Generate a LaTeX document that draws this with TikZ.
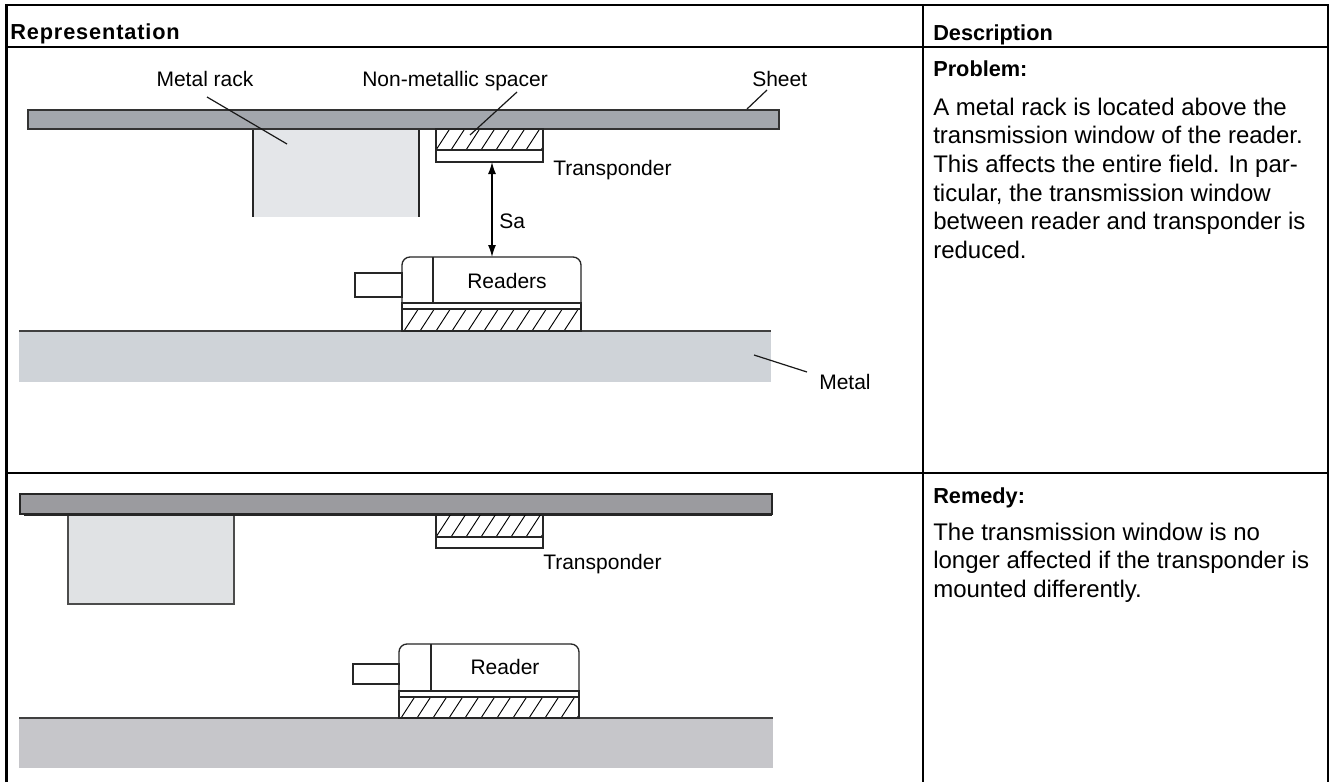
\documentclass[tikz,border=0pt]{standalone}
\usepackage{fontspec}
\setmainfont{Liberation Sans}
\usetikzlibrary{arrows.meta}
\definecolor{sheetA}{HTML}{A3A7AD}
\definecolor{sheetB}{HTML}{9B9B9F}
\definecolor{rackA}{HTML}{E4E6E9}
\definecolor{rackB}{HTML}{E0E2E4}
\definecolor{metalA}{HTML}{CFD3D8}
\definecolor{metalB}{HTML}{C6C6CA}
\newcommand\hatchbox[5]{%
  \begin{scope}
    \clip (#1,#2) rectangle (#3,#4);
    \foreach \k in {0,1,...,24}
      \draw[line width=0.7pt] ({#1-30+\k*#5},#4) -- ++({0.65*(#4-#2)},{-(#4-#2)});
  \end{scope}
  \draw[ln] (#1,#2) rectangle (#3,#4);}
\begin{document}
\begin{tikzpicture}[x=0.75pt,y=-0.75pt,
  tbl/.style={line width=1.8pt, black},
  ln/.style={line width=1.0pt, black!85},
  lead/.style={line width=0.9pt, black!90},
  lbl/.style={font=\fontsize{15.75pt}{18pt}\selectfont, inner sep=0pt, anchor=base west},
  lblc/.style={font=\fontsize{15.75pt}{18pt}\selectfont, inner sep=0pt, anchor=base},
  head/.style={font=\bfseries\fontsize{16.3pt}{20pt}\selectfont, inner sep=0pt, anchor=base west},
  body/.style={font=\fontsize{18pt}{21.5pt}\selectfont, inner sep=0pt, anchor=base west}]
\useasboundingbox (0,0) rectangle (1334,782);
\fill[white] (0,0) rectangle (1334,782);

% ---------- table ----------
\draw[tbl] (6.5,782) -- (6.5,5) -- (1328,5) -- (1328,782);
\draw[tbl] (923,5) -- (923,782);
\draw[tbl] (6.5,47) -- (1328,47);
\draw[tbl] (6.5,473) -- (1328,473);
\node[head] (hrep) at (10,39.5) {\addfontfeature{LetterSpace=4}Representation};
\node[head] (hdesc) at (933,40) {Description};

% ---------- upper panel ----------
\fill[metalA] (19,331) rectangle (771,382);
\draw[ln, black!75] (19,331) -- (771,331);
\fill[rackA] (253,129) rectangle (419,217);
\draw[ln] (253,129) -- (253,217);
\draw[ln] (419,129) -- (419,217);
\draw[line width=0.8pt, fill=sheetA, draw=black!80] (28,110) rectangle (779,129);
\hatchbox{436}{129}{543}{150}{15}
\draw[ln] (436,150) rectangle (543,162);
% reader
\draw[ln] (355,273) rectangle (402,297);
\draw[ln, rounded corners=6pt] (402,303) -- (402,257) -- (581,257) -- (581,303);
\draw[ln] (433,257) -- (433,303);
\draw[ln] (402,303) rectangle (581,309);
\hatchbox{402}{309}{581}{331}{16}
\node[lblc] (readers) at (507,288) {Readers};
% Sa arrow
\coordinate (tpbot) at (492,162);
\coordinate (rdtop) at (492,257);
\draw[line width=1.0pt, {Latex[length=9pt,width=6pt]}-{Latex[length=9pt,width=6pt]}] (tpbot) -- (rdtop);
\node[lbl] (sa) at (499,228) {Sa};
% labels + leaders
\node[lblc] (lrack) at (205,86) {Metal rack};
\coordinate (lrackE) at (287,144);
\draw[lead] (207,97) -- (lrackE);
\node[lbl] (lspacer) at (362,86) {Non-metallic spacer};
\coordinate (lspacerE) at (470,135);
\draw[lead] (517,92) -- (lspacerE);
\node[lbl] (lsheet) at (752,86) {Sheet};
\coordinate (lsheetE) at (747,109);
\draw[lead] (767,90) -- (lsheetE);
\node[lbl] (ltrans1) at (553,175) {Transponder};
\node[lbl] (lmetal) at (819,389) {Metal};
\coordinate (lmetalE) at (754,355);
\draw[lead] (807,372) -- (lmetalE);

% ---------- lower panel ----------
\fill[metalB] (19,718) rectangle (773,768);
\draw[ln, black!75] (19,718) -- (773,718);
\draw[line width=0.8pt, fill=rackB, draw=black!70] (68,514) rectangle (234,604);
\draw[line width=1.6pt, black!85] (24,515) -- (772,515);
\draw[line width=0.8pt, fill=sheetB, draw=black!85] (20,494) rectangle (772,514);
\hatchbox{436}{514}{543}{537}{15}
\draw[ln] (436,537) rectangle (543,548);
\node[lbl] (ltrans2) at (543,569) {Transponder};
% reader
\draw[ln] (353,664) rectangle (399,684);
\draw[ln, rounded corners=6pt] (399,691) -- (399,644) -- (579,644) -- (579,691);
\draw[ln] (431,644) -- (431,691);
\draw[ln] (399,691) rectangle (579,697);
\hatchbox{399}{697}{579}{718}{16}
\node[lblc] (reader) at (505,674) {Reader};

% ---------- description ----------
\node[head] (prob) at (933,76) {Problem:};
\foreach \t [count=\i] in {A metal rack is located above the,
  transmission window of the reader.,
  This affects the entire field. In par-,
  {ticular, the transmission window},
  between reader and transponder is,
  reduced.}
  \node[body] (p\i) at (933,{115+(\i-1)*28.7}) {\t};
\node[head] (rem) at (933,503) {Remedy:};
\foreach \t [count=\i] in {The transmission window is no,
  longer affected if the transponder is,
  mounted differently.}
  \node[body] (r\i) at (933,{540+(\i-1)*28.5}) {\t};
\end{tikzpicture}
\end{document}
